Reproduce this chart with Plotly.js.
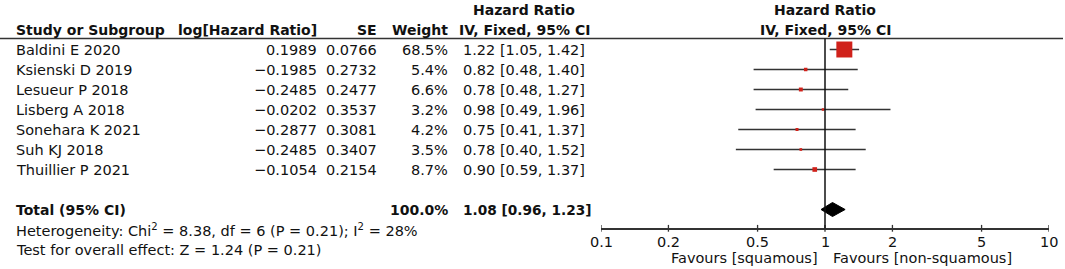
<!DOCTYPE html>
<html>
<head>
<meta charset="utf-8">
<script src="https://cdn.plot.ly/plotly-3.0.1.min.js"></script>
<style>html,body{margin:0;padding:0;background:#fff;}#chart{width:1065px;height:269px;}</style>
</head>
<body>
<div id="chart"></div>
<script>
const studies = ['Baldini E 2020','Ksienski D 2019','Lesueur P 2018','Lisberg A 2018','Sonehara K 2021','Suh KJ 2018','Thuillier P 2021'];
const logHR = [0.1989, -0.1985, -0.2485, -0.0202, -0.2877, -0.2485, -0.1054];
const seVals = [0.0766, 0.2732, 0.2477, 0.3537, 0.3081, 0.3407, 0.2154];
const weights = [68.5, 5.4, 6.6, 3.2, 4.2, 3.5, 8.7];
const hr = [1.22, 0.82, 0.78, 0.98, 0.75, 0.78, 0.90];
const ciLow = [1.05, 0.48, 0.48, 0.49, 0.41, 0.40, 0.59];
const ciHigh = [1.42, 1.40, 1.27, 1.96, 1.37, 1.52, 1.37];
const totalWeight = [100.0];
const totalHR = [1.08];
const totalLow = [0.96];
const totalHigh = [1.23];
const tickVals = [0.1, 0.2, 0.5, 1, 2, 5, 10];
const tickText = ['0.1', '0.2', '0.5', '1', '2', '5', '10'];
const heterogeneityText = 'Heterogeneity: Chi<sup>2</sup> = 8.38, df = 6 (P = 0.21); I<sup>2</sup> = 28%';
const overallText = 'Test for overall effect: Z = 1.24 (P = 0.21)';
const favoursLeft = 'Favours [squamous]';
const favoursRight = 'Favours [non-squamous]';

const W = 1065;
const FONT = 'DejaVu Sans';
const REG = 14.5, BOLD = 14;
const px = v => v / W;
const fmtSigned = (v, d) => (v < 0 ? '\u2212' : '') + Math.abs(v).toFixed(d);
const fmtCI = (m, l, h) => m.toFixed(2) + ' [' + l.toFixed(2) + ', ' + h.toFixed(2) + ']';

const rows = studies.map((s, i) => i);
const totalRow = studies.length + 1;
const hetRow = totalRow + 1;
const testRow = totalRow + 2;
const axisRow = 8.94;
const tickLabelRow = 9.61;
const favoursRow = 10.43;

const ann = [];
function txt(x, y, text, anchor, bold, size) {
  ann.push({xref: 'paper', yref: 'y', x: px(x), y: y, text: bold ? '<b>' + text + '</b>' : text,
    xanchor: anchor, yanchor: 'middle', showarrow: false,
    font: {family: FONT, size: size || (bold ? BOLD : REG), color: '#111'}});
}
// headers
txt(14, -1, 'Study or Subgroup', 'left', true);
txt(319, -1, 'log[Hazard Ratio]', 'right', true);
txt(379, -1, 'SE', 'right', true);
txt(450, -1, 'Weight', 'right', true);
txt(524, -2, 'Hazard Ratio', 'center', true);
txt(524, -1, 'IV, Fixed, 95% CI', 'center', true);
txt(825, -2, 'Hazard Ratio', 'center', true);
txt(825, -1, 'IV, Fixed, 95% CI', 'center', true);
// study rows
rows.forEach(i => {
  txt(14, i, studies[i], 'left', false);
  txt(319, i, fmtSigned(logHR[i], 4), 'right', false);
  txt(379, i, seVals[i].toFixed(4), 'right', false);
  txt(450, i, weights[i].toFixed(1) + '%', 'right', false);
  txt(461, i, fmtCI(hr[i], ciLow[i], ciHigh[i]), 'left', false);
});
txt(14, totalRow, 'Total (95% CI)', 'left', true);
txt(450, totalRow, totalWeight[0].toFixed(1) + '%', 'right', true);
txt(461, totalRow, fmtCI(totalHR[0], totalLow[0], totalHigh[0]), 'left', true, 13.7);
txt(14, hetRow, heterogeneityText, 'left', false);
txt(14, testRow, overallText, 'left', false);
txt(820, favoursRow, favoursLeft, 'right', false);
txt(831, favoursRow, favoursRight, 'left', false);
// axis tick labels (placed through the log x axis)
tickVals.forEach((v, k) => {
  ann.push({xref: 'x', yref: 'y', x: Math.log10(v), y: tickLabelRow, text: tickText[k],
    xanchor: 'center', yanchor: 'middle', showarrow: false,
    font: {family: FONT, size: REG, color: '#111'}});
});

// CI lines
const ciX = [], ciY = [];
rows.forEach(i => { ciX.push(ciLow[i], ciHigh[i], null); ciY.push(i, i, null); });
// axis ticks (crossing the axis line)
const tkX = [], tkY = [];
tickVals.forEach(v => { tkX.push(v, v, null); tkY.push(axisRow - 0.17, axisRow + 0.17, null); });

const traces = [
  {x: ciX, y: ciY, mode: 'lines', type: 'scatter', line: {color: '#333', width: 1.5}, hoverinfo: 'skip', showlegend: false},
  {x: tkX, y: tkY, mode: 'lines', type: 'scatter', line: {color: '#333', width: 1.3}, hoverinfo: 'skip', showlegend: false, cliponaxis: false},
  {x: hr, y: rows, mode: 'markers', type: 'scatter', showlegend: false,
   marker: {symbol: 'square', color: '#d0211a', opacity: 1, size: weights.map(w => 1.266 * Math.pow(w, 0.6)), line: {width: 0}}},
  {x: [totalLow[0], totalHR[0], totalHigh[0], totalHR[0], totalLow[0]],
   y: [totalRow, totalRow - 0.35, totalRow, totalRow + 0.35, totalRow],
   mode: 'lines', fill: 'toself', fillcolor: '#000', line: {color: '#000', width: 1}, type: 'scatter', showlegend: false}
];

const layout = {
  width: 1065, height: 269,
  margin: {l: 0, r: 0, t: 0, b: 0},
  paper_bgcolor: '#fff', plot_bgcolor: 'rgba(0,0,0,0)',
  showlegend: false,
  font: {family: FONT, size: REG, color: '#111'},
  xaxis: {type: 'log', range: [-1, 1], domain: [px(601), px(1049)], anchor: 'free', position: 1 - 228.3 / 269,
    showgrid: false, zeroline: false, showline: true, linecolor: '#333', linewidth: 1.5,
    ticks: '', showticklabels: false},
  yaxis: {range: [10.975, -2.475], domain: [0, 1], visible: false, fixedrange: true},
  annotations: ann,
  shapes: [
    {type: 'line', xref: 'paper', yref: 'y', x0: 0, x1: px(1063), y0: -0.55, y1: -0.55, line: {color: '#333', width: 1.5}},
    {type: 'line', xref: 'x', yref: 'y', x0: 1, x1: 1, y0: -0.55, y1: axisRow, line: {color: '#111', width: 1.5}}
  ]
};
Plotly.newPlot('chart', traces, layout, {displayModeBar: false, staticPlot: true});
</script>
</body>
</html>
